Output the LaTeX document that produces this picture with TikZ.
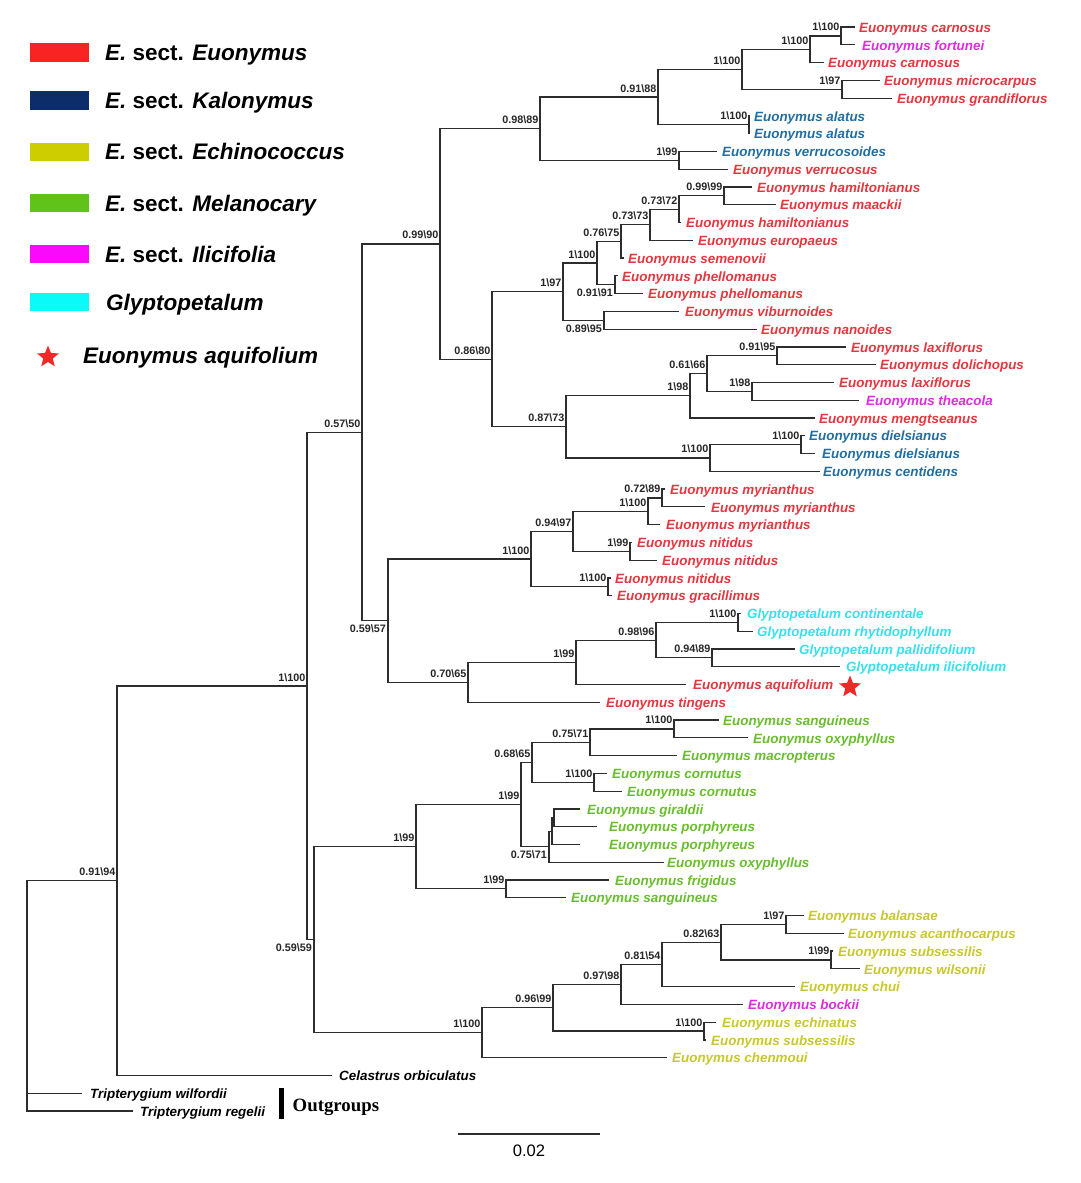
\documentclass[tikz,border=0pt]{standalone}
\usepackage{fontspec}
\setmainfont{Liberation Sans}
\newfontfamily\ogfont{Liberation Serif}
\usetikzlibrary{calc,shapes.geometric}
\definecolor{brc}{RGB}{45,45,45}
\definecolor{tr}{RGB}{228,56,64}
\definecolor{tb}{RGB}{35,110,160}
\definecolor{ty}{RGB}{200,200,45}
\definecolor{tg}{RGB}{105,190,45}
\definecolor{tm}{RGB}{222,45,222}
\definecolor{tc}{RGB}{55,225,235}
\definecolor{lr}{RGB}{250,35,35}
\definecolor{lb}{RGB}{12,45,105}
\definecolor{ly}{RGB}{205,205,0}
\definecolor{lg}{RGB}{95,195,25}
\definecolor{lm}{RGB}{250,10,250}
\definecolor{lc}{RGB}{10,250,250}
\definecolor{strc}{RGB}{240,40,40}
\tikzset{
  br/.style={draw=brc, line width=1.2pt},
  tl/.style={inner sep=0pt, font=\fontsize{13.4}{15}\selectfont\bfseries\itshape},
  bsl/.style={inner sep=0pt, font=\fontsize{10.8}{12}\selectfont\bfseries, text=black!85},
  leg/.style={inner sep=0pt, font=\fontsize{22.5}{26}\selectfont\bfseries, anchor=base west},
  legbox/.style={inner sep=0pt, minimum width=59.3pt, minimum height=18.4pt},
  redstar/.style={star, star points=5, star point ratio=2.3, fill=strc, inner sep=0pt},
}
\newcommand\bsk{\textbackslash}
\newcommand\tipx[6]{\coordinate (#1) at (#2,#3); \node[tl,text=#5,anchor=base west] (#1t) at (#4,#3+5.2) {#6};}
\newcommand\bnode[4]{\coordinate (#1) at (#2,#3); \node[bsl,anchor=base east] (#1l) at (#2-1.5,#3-5) {#4};}
\newcommand\bnodeb[4]{\coordinate (#1) at (#2,#3); \node[bsl,anchor=north east] (#1l) at (#2-2,#3+4) {#4};}
\newcommand\unode[3]{\coordinate (#1) at (#2,#3);}
\newcommand\edg[2]{\draw[br] (#1) |- (#2);}
\begin{document}
\begin{tikzpicture}[x=1pt,y=-1pt]
\useasboundingbox (0,0) rectangle (1080,1183);
\fill[white] (0,0) rectangle (1080,1183);

% ---------- legend ----------
\node[legbox,fill=lr] (k1) at (59.7,52.5) {};
\node[legbox,fill=lb] (k2) at (59.7,100.5) {};
\node[legbox,fill=ly] (k3) at (59.7,151.7) {};
\node[legbox,fill=lg] (k4) at (59.7,203) {};
\node[legbox,fill=lm] (k5) at (59.7,254) {};
\node[legbox,fill=lc] (k6) at (59.7,302) {};
\node[redstar,minimum size=23pt] (k7) at (48,357) {};
\node[leg] (k1t) at (105,52.5+8.1) {\textit{E.} sect. \textit{Euonymus}};
\node[leg] (k2t) at (105,100.5+8.1) {\textit{E.} sect. \textit{Kalonymus}};
\node[leg] (k3t) at (105,151.7+8.1) {\textit{E.} sect. \textit{Echinococcus}};
\node[leg] (k4t) at (105,203+8.1) {\textit{E.} sect. \textit{Melanocary}};
\node[leg] (k5t) at (105,254+8.1) {\textit{E.} sect. \textit{Ilicifolia}};
\node[leg] (k6t) at (106,302+8.1) {\textit{Glyptopetalum}};
\node[leg] (k7t) at (83,355+8.1) {\textit{Euonymus aquifolium}};

% ---------- tips ----------
\tipx{t1}{855}{27.0}{859}{tr}{Euonymus carnosus}
\tipx{t2}{855}{44.8}{862}{tm}{Euonymus fortunei}
\tipx{t3}{824}{62.5}{828}{tr}{Euonymus carnosus}
\tipx{t4}{880}{80.3}{884}{tr}{Euonymus microcarpus}
\tipx{t5}{892}{98.1}{897}{tr}{Euonymus grandiflorus}
\tipx{t6}{750}{115.9}{754}{tb}{Euonymus alatus}
\tipx{t7}{750}{133.6}{754}{tb}{Euonymus alatus}
\tipx{t8}{717}{151.4}{722}{tb}{Euonymus verrucosoides}
\tipx{t9}{728}{169.2}{733}{tr}{Euonymus verrucosus}
\tipx{t10}{752}{186.9}{757}{tr}{Euonymus hamiltonianus}
\tipx{t11}{776}{204.7}{780}{tr}{Euonymus maackii}
\tipx{t12}{681}{222.5}{686}{tr}{Euonymus hamiltonianus}
\tipx{t13}{693}{240.2}{698}{tr}{Euonymus europaeus}
\tipx{t14}{624}{258.0}{628}{tr}{Euonymus semenovii}
\tipx{t15}{618}{275.8}{622}{tr}{Euonymus phellomanus}
\tipx{t16}{643}{293.6}{648}{tr}{Euonymus phellomanus}
\tipx{t17}{679}{311.3}{685}{tr}{Euonymus viburnoides}
\tipx{t18}{757}{329.1}{761}{tr}{Euonymus nanoides}
\tipx{t19}{846}{346.9}{851}{tr}{Euonymus laxiflorus}
\tipx{t20}{876}{364.6}{880}{tr}{Euonymus dolichopus}
\tipx{t21}{834}{382.4}{839}{tr}{Euonymus laxiflorus}
\tipx{t22}{859}{400.2}{866}{tm}{Euonymus theacola}
\tipx{t23}{815}{417.9}{819}{tr}{Euonymus mengtseanus}
\tipx{t24}{805}{435.7}{809}{tb}{Euonymus dielsianus}
\tipx{t25}{815}{453.5}{822}{tb}{Euonymus dielsianus}
\tipx{t26}{820}{471.3}{823}{tb}{Euonymus centidens}
\tipx{t27}{665}{489.0}{670}{tr}{Euonymus myrianthus}
\tipx{t28}{705}{506.8}{711}{tr}{Euonymus myrianthus}
\tipx{t29}{660}{524.6}{666}{tr}{Euonymus myrianthus}
\tipx{t30}{632}{542.3}{637}{tr}{Euonymus nitidus}
\tipx{t31}{657}{560.1}{662}{tr}{Euonymus nitidus}
\tipx{t32}{611}{577.9}{615}{tr}{Euonymus nitidus}
\tipx{t33}{612}{595.6}{617}{tr}{Euonymus gracillimus}
\tipx{t34}{741}{613.4}{747}{tc}{Glyptopetalum continentale}
\tipx{t35}{753}{631.2}{757}{tc}{Glyptopetalum rhytidophyllum}
\tipx{t36}{795}{649.0}{799}{tc}{Glyptopetalum pallidifolium}
\tipx{t37}{840}{666.7}{846}{tc}{Glyptopetalum ilicifolium}
\tipx{t38}{686}{684.5}{693}{tr}{Euonymus aquifolium}
\tipx{t39}{600}{702.3}{606}{tr}{Euonymus tingens}
\tipx{t40}{719}{720.0}{723}{tg}{Euonymus sanguineus}
\tipx{t41}{748}{737.8}{753}{tg}{Euonymus oxyphyllus}
\tipx{t42}{677}{755.6}{682}{tg}{Euonymus macropterus}
\tipx{t43}{607}{773.3}{612}{tg}{Euonymus cornutus}
\tipx{t44}{622}{791.1}{627}{tg}{Euonymus cornutus}
\tipx{t45}{580}{808.9}{587}{tg}{Euonymus giraldii}
\tipx{t46}{597}{826.7}{609}{tg}{Euonymus porphyreus}
\tipx{t47}{580}{844.4}{609}{tg}{Euonymus porphyreus}
\tipx{t48}{664}{862.2}{667}{tg}{Euonymus oxyphyllus}
\tipx{t49}{609}{880.0}{615}{tg}{Euonymus frigidus}
\tipx{t50}{566}{897.7}{571}{tg}{Euonymus sanguineus}
\tipx{t51}{804}{915.5}{808}{ty}{Euonymus balansae}
\tipx{t52}{844}{933.3}{848}{ty}{Euonymus acanthocarpus}
\tipx{t53}{833}{951.0}{838}{ty}{Euonymus subsessilis}
\tipx{t54}{860}{968.8}{864}{ty}{Euonymus wilsonii}
\tipx{t55}{795}{986.6}{800}{ty}{Euonymus chui}
\tipx{t56}{743}{1004.3}{748}{tm}{Euonymus bockii}
\tipx{t57}{716}{1022.1}{722}{ty}{Euonymus echinatus}
\tipx{t58}{706}{1039.9}{711}{ty}{Euonymus subsessilis}
\tipx{t59}{667}{1057.6}{672}{ty}{Euonymus chenmoui}
\tipx{t60}{332}{1075.4}{339}{black}{Celastrus orbiculatus}
\tipx{t61}{82}{1093.2}{90}{black}{Tripterygium wilfordii}
\tipx{t62}{133}{1111.0}{140}{black}{Tripterygium regelii}
\node[redstar,minimum size=23pt] (aqstar) at (850,687) {};

% ---------- internal nodes ----------
\bnode{n4}{841}{35.9}{1\bsk 100}
\bnode{n3}{810}{49.2}{1\bsk 100}
\bnode{n5}{842}{89.2}{1\bsk 97}
\bnode{n2}{742}{69.2}{1\bsk 100}
\bnode{n6}{749}{124.75}{1\bsk 100}
\bnode{n1}{658}{97.0}{0.91\bsk 88}
\bnode{n7}{679}{160.3}{1\bsk 99}
\bnode{n0}{540}{128.65}{0.98\bsk 89}
\bnode{b5}{724}{195.8}{0.99\bsk 99}
\bnode{b4}{679}{209.15}{0.73\bsk 72}
\bnode{b3}{650}{224.7}{0.73\bsk 73}
\bnode{b2}{621}{241.35}{0.76\bsk 75}
\bnodeb{b6}{615}{284.7}{0.91\bsk 91}
\bnode{b1}{597}{263.0}{1\bsk 100}
\bnodeb{b7}{604}{320.2}{0.89\bsk 95}
\bnode{b0}{563}{291.6}{1\bsk 97}
\bnode{c3}{777}{355.75}{0.91\bsk 95}
\bnode{c4}{752}{391.3}{1\bsk 98}
\bnode{c2}{707}{373.5}{0.61\bsk 66}
\bnode{c1}{690}{395.7}{1\bsk 98}
\bnode{c6}{801}{444.6}{1\bsk 100}
\bnode{c5}{710}{457.95}{1\bsk 100}
\bnode{c0}{566}{426.8}{0.87\bsk 73}
\bnode{bc}{492}{359.2}{0.86\bsk 80}
\bnode{tp}{440}{243.9}{0.99\bsk 90}
\bnode{d3}{662}{497.9}{0.72\bsk 89}
\bnode{d2}{648}{511.25}{1\bsk 100}
\bnode{d4}{630}{551.2}{1\bsk 99}
\bnode{d1}{573}{531.2}{0.94\bsk 97}
\bnode{d5}{608}{586.75}{1\bsk 100}
\bnode{d0}{531}{559.0}{1\bsk 100}
\bnode{e3}{738}{622.3}{1\bsk 100}
\bnode{e4}{712}{657.85}{0.94\bsk 89}
\bnode{e2}{656}{640.1}{0.98\bsk 96}
\bnode{e1}{576}{662.3}{1\bsk 99}
\bnode{e0}{468}{682.3}{0.70\bsk 65}
\bnodeb{de}{388}{620.65}{0.59\bsk 57}
\bnode{uu}{362}{432.3}{0.57\bsk 50}
\bnode{f4}{674}{728.9}{1\bsk 100}
\bnode{f3}{590}{742.25}{0.75\bsk 71}
\bnode{f5}{594}{782.2}{1\bsk 100}
\bnode{f2}{532}{762.2}{0.68\bsk 65}
\unode{g1}{554}{817.8}
\unode{g2}{552}{831.1}
\bnodeb{f6}{549}{846.65}{0.75\bsk 71}
\bnode{f1}{521}{804.4}{1\bsk 99}
\bnode{f7}{506}{888.85}{1\bsk 99}
\bnode{f0}{416}{846.6}{1\bsk 99}
\bnode{h5}{786}{924.4}{1\bsk 97}
\bnode{h6}{831}{959.9}{1\bsk 99}
\bnode{h4}{721}{942.15}{0.82\bsk 63}
\bnode{h3}{662}{964.4}{0.81\bsk 54}
\bnode{h2}{621}{984.35}{0.97\bsk 98}
\bnode{h7}{704}{1031.0}{1\bsk 100}
\bnode{h1}{553}{1007.7}{0.96\bsk 99}
\bnode{h0}{482}{1032.65}{1\bsk 100}
\bnodeb{fh}{314}{939.6}{0.59\bsk 59}
\bnode{mm}{307}{686.0}{1\bsk 100}
\bnode{nr}{117}{880.7}{0.91\bsk 94}
\unode{root}{27}{996}

% ---------- branches ----------
\edg{n4}{t1}\edg{n4}{t2}
\edg{n3}{n4}\edg{n3}{t3}
\edg{n5}{t4}\edg{n5}{t5}
\edg{n2}{n3}\edg{n2}{n5}
\edg{n6}{t6}\edg{n6}{t7}
\edg{n1}{n2}\edg{n1}{n6}
\edg{n7}{t8}\edg{n7}{t9}
\edg{n0}{n1}\edg{n0}{n7}
\edg{b5}{t10}\edg{b5}{t11}
\edg{b4}{b5}\edg{b4}{t12}
\edg{b3}{b4}\edg{b3}{t13}
\edg{b2}{b3}\edg{b2}{t14}
\edg{b6}{t15}\edg{b6}{t16}
\edg{b1}{b2}\edg{b1}{b6}
\edg{b7}{t17}\edg{b7}{t18}
\edg{b0}{b1}\edg{b0}{b7}
\edg{c3}{t19}\edg{c3}{t20}
\edg{c4}{t21}\edg{c4}{t22}
\edg{c2}{c3}\edg{c2}{c4}
\edg{c1}{c2}\edg{c1}{t23}
\edg{c6}{t24}\edg{c6}{t25}
\edg{c5}{c6}\edg{c5}{t26}
\edg{c0}{c1}\edg{c0}{c5}
\edg{bc}{b0}\edg{bc}{c0}
\edg{tp}{n0}\edg{tp}{bc}
\edg{d3}{t27}\edg{d3}{t28}
\edg{d2}{d3}\edg{d2}{t29}
\edg{d4}{t30}\edg{d4}{t31}
\edg{d1}{d2}\edg{d1}{d4}
\edg{d5}{t32}\edg{d5}{t33}
\edg{d0}{d1}\edg{d0}{d5}
\edg{e3}{t34}\edg{e3}{t35}
\edg{e4}{t36}\edg{e4}{t37}
\edg{e2}{e3}\edg{e2}{e4}
\edg{e1}{e2}\edg{e1}{t38}
\edg{e0}{e1}\edg{e0}{t39}
\edg{de}{d0}\edg{de}{e0}
\edg{uu}{tp}\edg{uu}{de}
\edg{f4}{t40}\edg{f4}{t41}
\edg{f3}{f4}\edg{f3}{t42}
\edg{f5}{t43}\edg{f5}{t44}
\edg{f2}{f3}\edg{f2}{f5}
\edg{g1}{t45}\edg{g1}{t46}
\edg{g2}{g1}\edg{g2}{t47}
\edg{f6}{g2}\edg{f6}{t48}
\edg{f1}{f2}\edg{f1}{f6}
\edg{f7}{t49}\edg{f7}{t50}
\edg{f0}{f1}\edg{f0}{f7}
\edg{h5}{t51}\edg{h5}{t52}
\edg{h6}{t53}\edg{h6}{t54}
\edg{h4}{h5}\edg{h4}{h6}
\edg{h3}{h4}\edg{h3}{t55}
\edg{h2}{h3}\edg{h2}{t56}
\edg{h7}{t57}\edg{h7}{t58}
\edg{h1}{h2}\edg{h1}{h7}
\edg{h0}{h1}\edg{h0}{t59}
\edg{fh}{f0}\edg{fh}{h0}
\edg{mm}{uu}\edg{mm}{fh}
\edg{nr}{mm}\edg{nr}{t60}
\edg{root}{nr}\edg{root}{t61}\edg{root}{t62}

% ---------- outgroups and scale ----------
\coordinate (ogA) at (281.7,1088);
\coordinate (ogB) at (281.7,1119);
\draw[line width=4.5pt] (ogA) -- (ogB);
\node[inner sep=0pt, anchor=base west, font=\ogfont\fontsize{18.8}{21}\selectfont\bfseries] (ogt) at (292.5,1111.7) {Outgroups};
\coordinate (sb1) at (458,1134);
\coordinate (sb2) at (600,1134);
\draw[line width=1.8pt, draw=brc] (sb1) -- (sb2);
\node[inner sep=0pt, font=\fontsize{16.6}{19}\selectfont] (sbt) at (529,1150.5) {0.02};
\end{tikzpicture}
\end{document}
